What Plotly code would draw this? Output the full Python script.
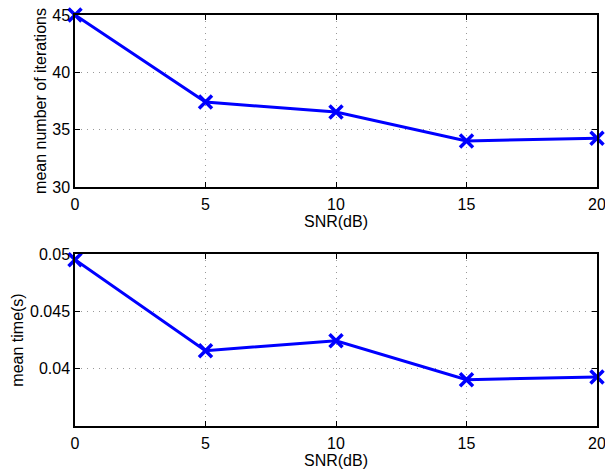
import plotly.graph_objects as go
from plotly.subplots import make_subplots

snr = [0, 5, 10, 15, 20]
mean_iters = [45.0, 37.41, 36.54, 34.02, 34.25]
mean_time = [0.0495, 0.04157, 0.04243, 0.03904, 0.03928]

fig = make_subplots(rows=2, cols=1, vertical_spacing=0.163)
blue = "#0000ff"
for i, y in enumerate([mean_iters, mean_time], start=1):
    fig.add_trace(go.Scatter(
        x=snr, y=y, mode="lines+markers",
        line=dict(color=blue, width=3),
        marker=dict(symbol="x-thin", size=13, line=dict(color=blue, width=3.5), color=blue),
        cliponaxis=False, showlegend=False), row=i, col=1)

tfont = dict(family="Liberation Sans, Arial, sans-serif", size=16, color="black")
font = dict(family="Liberation Sans, Arial, sans-serif", size=16, color="black")
axcommon = dict(showline=True, linecolor="black", linewidth=1.5, mirror="ticks",
                ticks="inside", ticklen=5, tickcolor="black",
                showgrid=True, gridcolor="#999999", griddash="1px,5px", gridwidth=1,
                zeroline=False, tickfont=tfont, automargin=False,
                ticklabeloverflow="allow")
for i in (1, 2):
    fig.update_xaxes(range=[0, 20], tickvals=snr, ticklabelstandoff=2,
                     title=dict(text="SNR(dB)", font=font, standoff=2),
                     **axcommon, row=i, col=1)
fig.update_yaxes(range=[30, 45], tickvals=[30, 35, 40, 45],
                 title=dict(text="mean number of iterations", font=font, standoff=2),
                 **axcommon, row=1, col=1)
fig.update_yaxes(range=[0.035, 0.05], tickvals=[0.04, 0.045, 0.05],
                 ticktext=["0.04", "0.045", "0.05"],
                 title=dict(text="mean time(s)", font=font, standoff=2),
                 **axcommon, row=2, col=1)
fig.update_layout(width=605, height=473, margin=dict(l=75, r=8, t=15, b=47),
                  plot_bgcolor="white", paper_bgcolor="white", font=font)
fig.layout.yaxis.domain = [0.5815, 1]
fig.layout.yaxis2.domain = [0, 0.4185]
fig.write_html("out.html", config={"displayModeBar": False},
               post_script="document.body.style.margin='0';document.body.style.overflow='hidden';")
